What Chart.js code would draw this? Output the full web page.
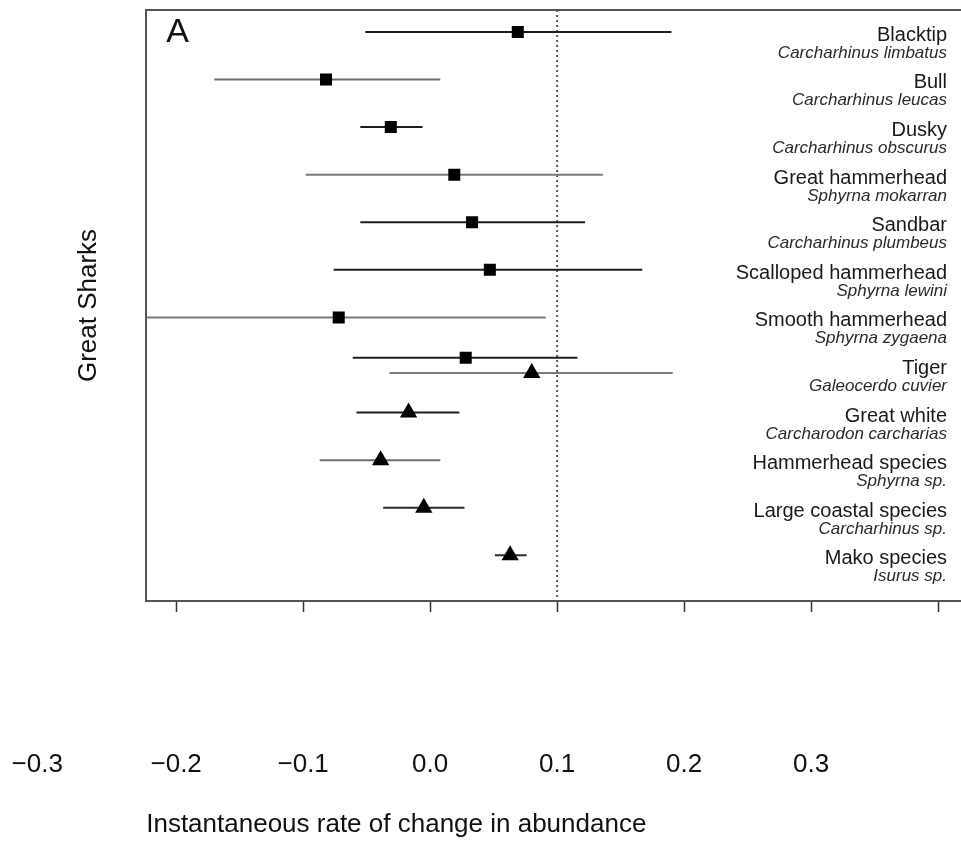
<!DOCTYPE html>
<html>
<head>
<meta charset="utf-8">
<script src="https://cdn.jsdelivr.net/npm/chart.js@4.4.1/dist/chart.umd.min.js"></script>
<style>
  html, body { margin: 0; padding: 0; background: #fff; overflow: hidden; }
  canvas { display: block; }
</style>
</head>
<body>
<!-- a little wider than the window: the box runs off the right edge like the original -->
<canvas id="sharkChart" width="971" height="843"></canvas>
<script>
// Species shown down the right side, one row each
const commonNames = ['Blacktip', 'Bull', 'Dusky', 'Great hammerhead', 'Sandbar', 'Scalloped hammerhead',
  'Smooth hammerhead', 'Tiger', 'Great white', 'Hammerhead species', 'Large coastal species', 'Mako species'];
const latinNames = ['Carcharhinus limbatus', 'Carcharhinus leucas', 'Carcharhinus obscurus', 'Sphyrna mokarran',
  'Carcharhinus plumbeus', 'Sphyrna lewini', 'Sphyrna zygaena', 'Galeocerdo cuvier', 'Carcharodon carcharias',
  'Sphyrna sp.', 'Carcharhinus sp.', 'Isurus sp.'];

// square estimates (Tiger has both a square and a triangle, slightly dodged)
const squareRows = [0, 1, 2, 3, 4, 5, 6, 6.85];
const squareRate = [0.069, -0.082, -0.031, 0.019, 0.033, 0.047, -0.072, 0.028];
const squareLow = [-0.051, -0.170, -0.055, -0.098, -0.055, -0.076, -0.235, -0.061];
const squareHigh = [0.190, 0.008, -0.006, 0.136, 0.122, 0.167, 0.091, 0.116];

// triangle estimates
const triangleRows = [7.17, 8, 9, 10, 11];
const triangleRate = [0.080, -0.017, -0.039, -0.005, 0.063];
const triangleLow = [-0.032, -0.058, -0.087, -0.037, 0.051];
const triangleHigh = [0.191, 0.023, 0.008, 0.027, 0.076];

const tickLabels = ['−0.3', '−0.2', '−0.1', '0.0', '0.1', '0.2', '0.3'];
const refRate = 0.1;
const xTitle = 'Instantaneous rate of change in abundance';

// interval line colours (some dark, some grey like the original)
const squareBarColor = ['#1e1e1e', '#6e6e6e', '#1e1e1e', '#7a7a7a', '#1e1e1e', '#1e1e1e', '#7a7a7a', '#1e1e1e'];
const triangleBarColor = ['#7a7a7a', '#1e1e1e', '#6e6e6e', '#2a2a2a', '#2a2a2a'];

const FONT = '"Liberation Sans", Arial, Helvetica, sans-serif';
const labelValue = (s) => parseFloat(s.replace('−', '-'));

const datasets = [];

datasets.push({
  label: 'squares',
  type: 'scatter',
  data: squareRows.map((r, i) => ({ x: squareRate[i], y: r })),
  pointStyle: 'rect',
  pointRadius: 8.5,
  backgroundColor: '#000',
  borderWidth: 0,
  order: 0
});
datasets.push({
  label: 'triangles',
  type: 'scatter',
  data: triangleRows.map((r, i) => ({ x: triangleRate[i], y: r })),
  pointStyle: 'triangle',
  pointRadius: 10,
  backgroundColor: '#000',
  borderWidth: 0,
  order: 0
});

squareRows.forEach((r, i) => {
  datasets.push({
    type: 'line',
    data: [{ x: squareLow[i], y: r }, { x: squareHigh[i], y: r }],
    borderColor: squareBarColor[i],
    borderWidth: 2,
    pointRadius: 0,
    order: 1
  });
});
triangleRows.forEach((r, i) => {
  datasets.push({
    type: 'line',
    data: [{ x: triangleLow[i], y: r }, { x: triangleHigh[i], y: r }],
    borderColor: triangleBarColor[i],
    borderWidth: 2,
    pointRadius: 0,
    order: 1
  });
});

// dotted reference line
datasets.push({
  type: 'line',
  data: [{ x: refRate, y: -0.46 }, { x: refRate, y: 11.96 }],
  borderColor: '#555',
  borderWidth: 2,
  borderDash: [2, 3],
  pointRadius: 0,
  order: 2
});

const framePlugin = {
  id: 'frame',
  afterDraw(chart) {
    const { ctx, chartArea } = chart;
    const xs = chart.scales.x;
    const ys = chart.scales.y;
    ctx.save();

    // top edge of the box
    ctx.strokeStyle = '#555';
    ctx.lineWidth = 2;
    ctx.beginPath();
    ctx.moveTo(chartArea.left, chartArea.top);
    ctx.lineTo(chartArea.right, chartArea.top);
    ctx.stroke();

    // panel letter
    ctx.fillStyle = '#111';
    ctx.font = '34px ' + FONT;
    ctx.textAlign = 'left';
    ctx.textBaseline = 'alphabetic';
    ctx.fillText('A', chartArea.left + 20, chartArea.top + 32);

    // species names on the right
    ctx.textAlign = 'right';
    commonNames.forEach((name, r) => {
      const y = ys.getPixelForValue(r);
      ctx.fillStyle = '#1a1a1a';
      ctx.font = '20px ' + FONT;
      ctx.fillText(name, 947, y + 9);
      ctx.fillStyle = '#2a2a2a';
      ctx.font = 'italic 17px ' + FONT;
      ctx.fillText(latinNames[r], 947, y + 26);
    });

    // tick labels sit far below the tick marks; the leftmost one is outside the box
    ctx.fillStyle = '#111';
    ctx.font = '26px ' + FONT;
    ctx.textAlign = 'center';
    ctx.textBaseline = 'middle';
    tickLabels.forEach((t) => {
      const v = labelValue(t);
      let px = xs.getPixelForValue(v);
      if (v < xs.min) px -= 12;
      ctx.fillText(t, px, 765);
    });

    // axis title, starting at the left edge of the box
    ctx.textAlign = 'left';
    ctx.fillText(xTitle, chartArea.left, 825);
    ctx.restore();
  }
};

new Chart(document.getElementById('sharkChart'), {
  type: 'scatter',
  data: { datasets },
  options: {
    responsive: false,
    animation: false,
    devicePixelRatio: 1,
    layout: { padding: { top: 9, bottom: 231, left: 0, right: 0 } },
    plugins: { legend: { display: false }, tooltip: { enabled: false } },
    scales: {
      x: {
        type: 'linear',
        min: -0.2236,
        max: 0.418,
        ticks: { display: false, stepSize: 0.1, includeBounds: false },
        grid: { display: true, drawOnChartArea: false, drawTicks: true, tickLength: 11, tickWidth: 1.5, tickColor: '#333' },
        border: { display: true, color: '#555', width: 2 }
      },
      y: {
        type: 'linear',
        reverse: true,
        min: -0.46,
        max: 11.96,
        ticks: { display: false },
        grid: { display: false, drawTicks: false },
        border: { display: true, color: '#555', width: 2 },
        title: {
          display: true,
          text: 'Great Sharks',
          color: '#111',
          font: { family: FONT, size: 26 },
          padding: { top: 73, bottom: 42 }
        }
      }
    }
  },
  plugins: [framePlugin]
});
</script>
</body>
</html>
